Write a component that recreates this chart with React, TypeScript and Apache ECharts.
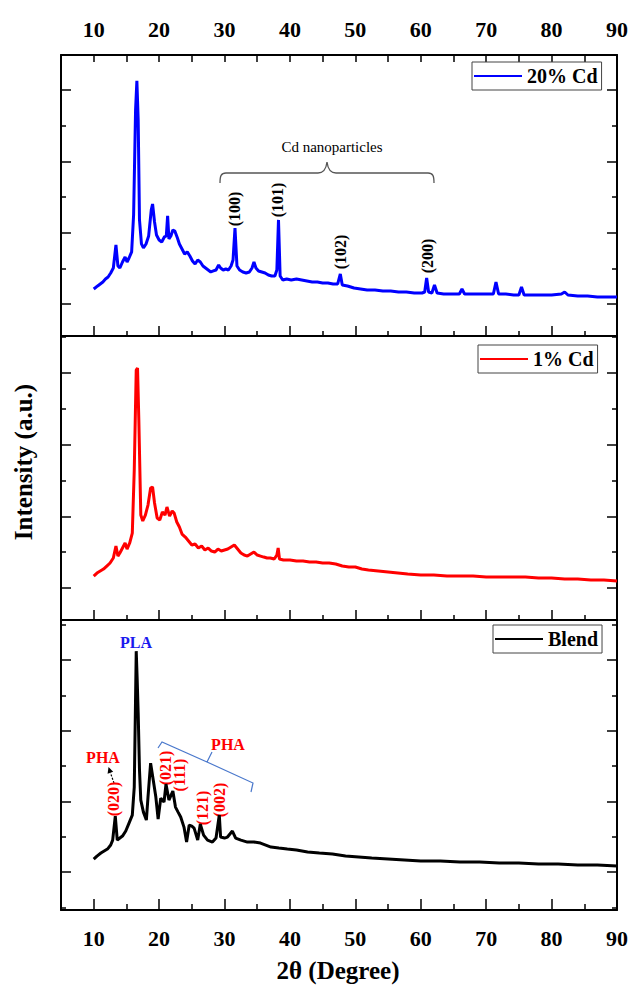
import React, { useEffect, useRef } from "react";
import * as echarts from "echarts";

// ---- data (2θ in degrees, intensity in arbitrary units) ----
const cd20: [number, number][] = [
  [10.0,1210],[10.2,1224],[10.6,1253],[11.0,1281],[11.4,1309],[11.8,1351],[12.2,1379],[12.6,1435],[13.0,1505],[13.4,1828],
  [13.7,1533],[14.0,1505],[14.4,1589],[14.8,1659],[15.1,1589],[15.4,1645],[15.8,1730],[16.1,2249],[16.4,3722],[16.6,4129],
  [16.8,3582],[17.0,2179],[17.3,1842],[17.6,1786],[18.0,1842],[18.4,1954],[18.8,2319],[19.0,2403],[19.3,2150],[19.6,1968],
  [20.0,1898],[20.4,1870],[20.8,1940],[21.1,1954],[21.3,2235],[21.5,1912],[21.8,1954],[22.1,2038],[22.4,2024],[22.8,1926],
  [23.1,1842],[23.5,1772],[23.9,1701],[24.3,1730],[24.7,1673],[25.1,1603],[25.5,1561],[25.9,1617],[26.3,1589],[26.7,1533],
  [27.1,1505],[27.5,1477],[27.9,1449],[28.3,1463],[28.7,1477],[29.1,1547],[29.4,1505],[29.8,1477],[30.2,1491],[30.6,1477],
  [31.0,1533],[31.3,1617],[31.6,2066],[31.9,1533],[32.3,1477],[32.8,1449],[33.3,1435],[33.8,1449],[34.2,1505],[34.5,1589],
  [34.8,1505],[35.2,1463],[35.7,1449],[36.2,1435],[36.7,1407],[37.2,1393],[37.7,1393],[38.0,1477],[38.25,2179],[38.5,1393],
  [38.9,1337],[39.5,1351],[40.2,1337],[41.0,1351],[41.8,1337],[42.6,1323],[43.4,1309],[44.2,1309],[45.0,1295],[45.8,1295],
  [46.6,1281],[47.3,1281],[47.7,1421],[48.0,1267],[48.8,1253],[49.8,1224],[50.8,1210],[51.8,1196],[53.0,1196],[54.2,1182],
  [55.4,1182],[56.6,1168],[57.8,1168],[59.0,1154],[60.2,1154],[60.6,1168],[60.9,1365],[61.2,1168],[61.7,1154],[62.1,1267],
  [62.5,1154],[63.5,1140],[64.7,1140],[65.9,1140],[66.3,1210],[66.7,1140],[67.9,1140],[69.1,1140],[70.3,1140],[71.1,1140],
  [71.5,1309],[71.9,1140],[73.0,1140],[74.2,1126],[75.0,1126],[75.4,1239],[75.8,1126],[77.0,1126],[78.5,1126],[80.0,1126],
  [81.5,1140],[82.0,1168],[82.5,1126],[84.0,1112],[85.5,1112],[87.0,1098],[88.5,1098],[90.0,1098],
];

const cd1: [number, number][] = [
  [10.0,1167],[10.5,1209],[11.0,1237],[11.5,1265],[12.0,1307],[12.5,1349],[13.0,1419],[13.4,1586],[13.7,1446],[14.0,1488],
  [14.4,1558],[14.8,1628],[15.1,1544],[15.5,1628],[15.9,1767],[16.2,2646],[16.5,4041],[16.7,4069],[16.9,3344],[17.2,2018],
  [17.5,1935],[17.9,2018],[18.3,2158],[18.7,2395],[19.0,2409],[19.3,2186],[19.7,1977],[20.1,1949],[20.5,2060],[20.9,2018],
  [21.2,2130],[21.6,2004],[22.0,2074],[22.3,2046],[22.7,1921],[23.1,1851],[23.5,1753],[24.0,1711],[24.5,1656],[25.0,1600],
  [25.5,1614],[26.0,1558],[26.5,1586],[27.0,1530],[27.5,1558],[28.0,1516],[28.5,1502],[29.0,1544],[29.5,1516],[30.0,1530],
  [30.5,1544],[31.0,1572],[31.5,1600],[32.0,1544],[32.5,1488],[33.0,1460],[33.5,1446],[34.0,1474],[34.5,1502],[35.0,1460],
  [35.5,1446],[36.0,1432],[36.5,1419],[37.0,1419],[37.6,1405],[38.0,1460],[38.2,1558],[38.4,1405],[39.0,1391],[40.0,1391],
  [41.0,1377],[42.0,1377],[43.0,1363],[44.0,1363],[45.0,1349],[46.0,1349],[47.0,1335],[48.0,1307],[49.0,1293],[50.0,1293],
  [51.0,1265],[52.0,1251],[53.5,1237],[55.0,1223],[56.5,1209],[58.0,1195],[60.0,1181],[62.0,1181],[64.0,1167],[66.0,1167],
  [68.0,1167],[70.0,1153],[72.0,1153],[74.0,1153],[76.0,1153],[78.0,1140],[80.0,1140],[82.0,1126],[84.0,1126],[86.0,1112],
  [88.0,1112],[90.0,1098],
];

const blend: [number, number][] = [
  [10.0,1184],[10.5,1226],[11.1,1269],[11.6,1297],[12.1,1325],[12.6,1382],[12.9,1452],[13.3,1792],[13.6,1452],[14.0,1481],
  [14.4,1509],[14.9,1580],[15.4,1693],[15.9,1806],[16.2,2202],[16.35,3149],[16.5,4125],[16.65,3715],[16.8,3248],[17.0,2442],
  [17.2,2018],[17.6,1848],[18.05,1735],[18.3,2061],[18.7,2541],[19.1,2301],[19.5,2061],[19.85,1749],[20.25,2046],[20.75,1990],
  [21.05,2244],[21.5,2018],[22.1,2145],[22.5,1919],[22.9,1848],[23.3,1778],[23.8,1636],[24.2,1424],[24.6,1665],[25.0,1650],
  [25.35,1622],[25.9,1452],[26.3,1679],[26.8,1523],[27.4,1452],[28.15,1424],[28.7,1481],[29.2,1806],[29.4,1495],[30.0,1481],
  [30.45,1495],[31.2,1580],[31.7,1481],[32.5,1452],[33.5,1424],[34.5,1424],[35.5,1410],[36.3,1382],[37.1,1353],[38.3,1339],
  [39.6,1325],[41.0,1311],[42.7,1283],[44.5,1269],[46.5,1255],[48.5,1226],[50.5,1212],[52.5,1198],[55.0,1184],[57.5,1170],
  [60.0,1156],[63.0,1156],[66.0,1141],[69.0,1141],[72.0,1127],[75.0,1127],[78.0,1113],[81.0,1113],[84.0,1099],[87.0,1099],
  [90.0,1085],
];

const seriesNames = ["20% Cd", "1% Cd", "Blend"];
const seriesColors = ["#0000ff", "#ff0000", "#000000"];
const xRange = [5, 90];
const yRanges = [[551, 4492], [554, 4516], [463, 4566]];
const cdPeakLabels = ["(100)", "(101)", "(102)", "(200)"];
const phaPeakLabels = ["(020)", "(021)", "(111)", "(121)", "(002)"];

const SERIF = '"Liberation Serif", "Times New Roman", serif';
const f = (size: number, weight = "bold") => `${weight} ${size}px ${SERIF}`;

echarts.graphic.registerShape(
  "cdBrace",
  echarts.graphic.extendPath(
    "M220,183 C220,176 221,173 226,173 L318,173 C323,173 326,170 327,162 C328,170 331,173 336,173 L428,173 C433,173 434,176 434,183",
    {}
  )
);
echarts.graphic.registerShape(
  "phaBrace",
  echarts.graphic.extendPath(
    "M158,748 L162,742 L207,762 L212,752 M207,762 L253,783 L251,792",
    {}
  )
);

const grids = [
  { top: 55, height: 281 },
  { top: 336, height: 284 },
  { top: 620, height: 290 },
];

export default function App() {
  const ref = useRef<HTMLDivElement>(null);
  useEffect(() => {
    if (!ref.current) return;
    const chart = echarts.init(ref.current, undefined, { renderer: "svg" });
    const axisLine = { show: true, onZero: false, lineStyle: { color: "#000", width: 2 } };
    const tick = (len: number) => ({ show: true, inside: true, length: len, lineStyle: { color: "#000", width: 1.5 } });
    const minor = (len: number) => ({ show: true, splitNumber: 2, length: len, lineStyle: { color: "#000", width: 1.5 } });
    const tickLabel = (show: boolean, margin: number) => ({
      show,
      margin,
      fontFamily: SERIF,
      fontWeight: "bold",
      fontSize: 22,
      color: "#000",
      showMinLabel: false,
      showMaxLabel: true,
    });
    const xBase = (gridIndex: number, position: string, showLabel: boolean, margin: number, tl = 10, ml = 5) => ({
      type: "value",
      gridIndex,
      position,
      min: xRange[0],
      max: xRange[1],
      splitNumber: 9,
      axisLine,
      axisTick: tick(tl),
      minorTick: minor(ml),
      axisLabel: tickLabel(showLabel, margin),
      splitLine: { show: false },
    });
    const yBase = (gridIndex: number, position: string) => ({
      type: "value",
      gridIndex,
      position,
      min: yRanges[gridIndex][0],
      max: yRanges[gridIndex][1],
      splitNumber: 4,
      axisLine,
      axisTick: tick(10),
      minorTick: minor(5),
      axisLabel: { show: false },
      splitLine: { show: false },
    });

    const rotLabel = (text: string, x: number, y: number, color: string) => ({
      type: "text",
      x,
      y,
      rotation: Math.PI / 2,
      style: { text, font: f(16), fill: color, align: "center", verticalAlign: "middle" },
    });

    const legendBase = (name: string, left: number, top: number) => ({
      data: [name],
      left,
      top,
      orient: "horizontal",
      icon: "rect",
      itemWidth: 48,
      itemHeight: 2,
      selectedMode: false,
      borderColor: "#444",
      borderWidth: 1,
      backgroundColor: "#fff",
      padding: [4, 4, 4, 2],
      textStyle: { fontFamily: SERIF, fontWeight: "bold", fontSize: 20, color: "#000" },
    });

    chart.setOption({
      animation: false,
      grid: grids.map((g) => ({
        left: 61,
        right: 13,
        top: g.top,
        height: g.height,
        containLabel: false,
        outerBoundsMode: "none",
      })),
      xAxis: [
        xBase(0, "bottom", false, 10),
        xBase(0, "top", true, 15, 7, 7),
        xBase(1, "bottom", false, 10),
        xBase(2, "bottom", true, 17, 11, 6),
      ],
      yAxis: [
        yBase(0, "left"),
        yBase(0, "right"),
        yBase(1, "left"),
        yBase(1, "right"),
        yBase(2, "left"),
        yBase(2, "right"),
      ],
      legend: [
        legendBase(seriesNames[0], 472, 62),
        legendBase(seriesNames[1], 478, 345),
        legendBase(seriesNames[2], 493, 625),
      ],
      series: [
        { name: seriesNames[0], data: cd20, xAxisIndex: 0, yAxisIndex: 0 },
        { name: seriesNames[1], data: cd1, xAxisIndex: 2, yAxisIndex: 2 },
        { name: seriesNames[2], data: blend, xAxisIndex: 3, yAxisIndex: 4 },
      ].map((s, i) => ({
        ...s,
        type: "line",
        showSymbol: false,
        symbol: "none",
        color: seriesColors[i],
        lineStyle: { color: seriesColors[i], width: 3 },
        z: 3,
      })),
      graphic: [
        {
          type: "text",
          x: 23,
          y: 462,
          rotation: Math.PI / 2,
          style: { text: "Intensity (a.u.)", font: f(25), fill: "#000", align: "center", verticalAlign: "middle" },
        },
        {
          type: "text",
          x: 338,
          y: 970,
          style: { text: "2θ (Degree)", font: f(25), fill: "#000", align: "center", verticalAlign: "middle" },
        },
        {
          type: "text",
          x: 332,
          y: 147,
          style: { text: "Cd nanoparticles", font: f(15, "normal"), fill: "#000", align: "center", verticalAlign: "middle" },
        },
        { type: "cdBrace", style: { fill: "none", stroke: "#555", lineWidth: 1.3 } },
        rotLabel(cdPeakLabels[0], 234, 209, "#000"),
        rotLabel(cdPeakLabels[1], 277, 200, "#000"),
        rotLabel(cdPeakLabels[2], 340, 252, "#000"),
        rotLabel(cdPeakLabels[3], 427, 256, "#000"),
        {
          type: "text",
          x: 136,
          y: 642,
          style: { text: "PLA", font: f(16), fill: "#1a1aee", align: "center", verticalAlign: "middle" },
        },
        {
          type: "text",
          x: 103,
          y: 757,
          style: { text: "PHA", font: f(16), fill: "#ff0000", align: "center", verticalAlign: "middle" },
        },
        {
          type: "line",
          shape: { x1: 114, y1: 783, x2: 110.4, y2: 772.7 },
          style: { stroke: "#000", lineWidth: 1.2, lineDash: [2, 1.5] },
        },
        {
          type: "polygon",
          shape: { points: [[108.5, 767], [113.2, 771.8], [107.6, 773.7]] },
          style: { fill: "#000" },
        },
        rotLabel(phaPeakLabels[0], 113.5, 799, "#ff0000"),
        rotLabel(phaPeakLabels[1], 165.5, 768, "#ff0000"),
        rotLabel(phaPeakLabels[2], 179.5, 775, "#ff0000"),
        rotLabel(phaPeakLabels[3], 202, 808, "#ff0000"),
        rotLabel(phaPeakLabels[4], 219.5, 800, "#ff0000"),
        { type: "phaBrace", style: { fill: "none", stroke: "#4a78cc", lineWidth: 1.2 } },
        {
          type: "text",
          x: 228,
          y: 744,
          style: { text: "PHA", font: f(16), fill: "#ff0000", align: "center", verticalAlign: "middle" },
        },
      ],
    });
    return () => chart.dispose();
  }, []);
  return <div ref={ref} style={{ position: "absolute", left: 0, top: 0, width: 630, height: 987 }} />;
}
